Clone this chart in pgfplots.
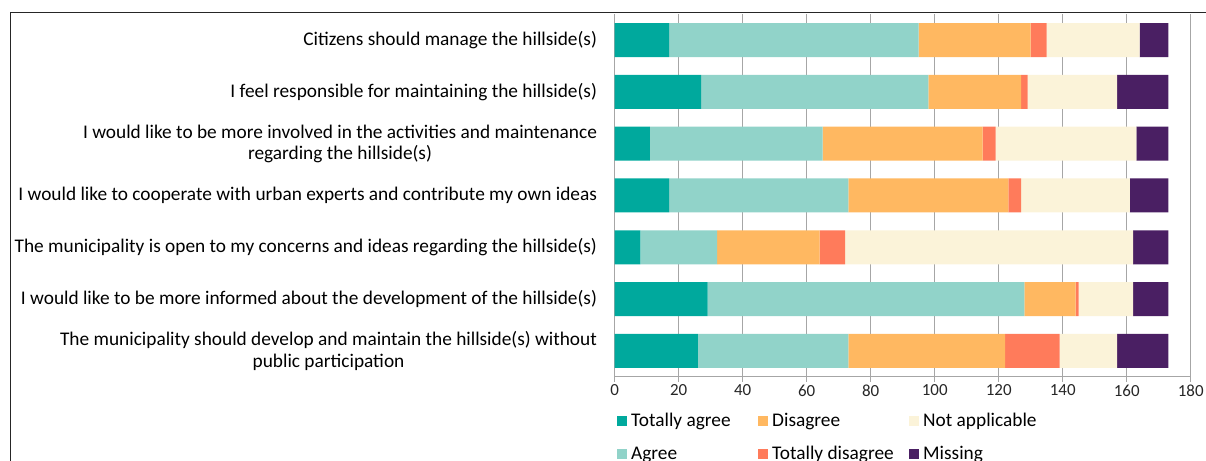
\documentclass[border=0pt]{standalone}
\usepackage{pgfplots}
\pgfplotsset{compat=1.18}
\usepackage{fontspec}
\setmainfont{Carlito}

\definecolor{tagree}{HTML}{00A99D}
\definecolor{agree}{HTML}{91D3C9}
\definecolor{disagree}{HTML}{FFB861}
\definecolor{tdis}{HTML}{FF7B5B}
\definecolor{notapp}{HTML}{FBF3D9}
\definecolor{missing}{HTML}{4A1F63}
\definecolor{gridgray}{HTML}{A6A6A6}

\pgfplotsset{
  sq/.style={legend image code/.code={\fill[##1] (0bp,0bp) rectangle (10bp,10bp);}},
}

\begin{document}
\begin{tikzpicture}[x=1bp,y=1bp]
\useasboundingbox (0,0) rectangle (1206,461);
\begin{axis}[
    at={(614.7bp,84.3bp)}, anchor=south west,
    scale only axis,
    width=576bp, height=362.4bp,
    xbar stacked,
    bar width=34bp,
    xmin=0, xmax=180,
    xtick distance=20,
    ymin=-0.5, ymax=6.5,
    y dir=reverse,
    ytick={0,...,6},
    minor ytick={-0.5,0.5,...,6.5},
    yticklabels={
      {Citizens should manage the hillside(s)},
      {I feel responsible for maintaining the hillside(s)},
      {I would like to be more involved in the activities and maintenance\\regarding the hillside(s)},
      {I would like to cooperate with urban experts and contribute my own ideas},
      {The municipality is open to my concerns and ideas regarding the hillside(s)},
      {I would like to be more informed about the development of the hillside(s)},
      {The municipality should develop and maintain the hillside(s) without\\public participation}
    },
    axis x line*=bottom,
    axis y line*=left,
    axis line style={-, gridgray, line width=1.2bp},
    tick align=outside,
    major tick length=5bp,
    minor tick length=5bp,
    ytick style={draw=none},
    minor tick style={draw=gridgray, line width=1.2bp},
    xtick style={gridgray, line width=1.2bp},
    xmajorgrids,
    major grid style={gridgray, line width=1.2bp},
    /pgf/number format/assume math mode=true,
    yticklabel style={font=\fontsize{19.4}{21.5}\selectfont, align=center,
      inner sep=0pt, xshift=-12.5bp, text=black},
    xticklabel style={font=\fontsize{17}{19}\selectfont, inner sep=0pt,
      yshift=-3bp, text=black!85},
    legend columns=2,
    transpose legend,
    legend style={draw=none, fill=none, inner sep=0pt,
      at={(0,0)}, anchor=north west, xshift=2.3bp, yshift=-36.3bp,
      nodes={inner sep=0pt, text height=13bp, text depth=4bp,
        font=\fontsize{19.4}{21}\selectfont, anchor=base west},
      row sep=16bp,
      /tikz/every odd column/.append style={column sep=4bp}},
]

\addplot[fill=tagree, draw=none, sq] coordinates {
    (17,0) (27,1) (11,2) (17,3) (8,4) (29,5) (26,6)
};
\addlegendentry{\makebox[127bp][l]{Totally agree}}

\addplot[fill=agree, draw=none, sq] coordinates {
    (78,0) (71,1) (54,2) (56,3) (24,4) (99,5) (47,6)
};
\addlegendentry{\makebox[127bp][l]{Agree}}

\addplot[fill=disagree, draw=none, sq] coordinates {
    (35,0) (29,1) (50,2) (50,3) (32,4) (16,5) (49,6)
};
\addlegendentry{\makebox[137bp][l]{Disagree}}

\addplot[fill=tdis, draw=none, sq] coordinates {
    (5,0) (2,1) (4,2) (4,3) (8,4) (1,5) (17,6)
};
\addlegendentry{\makebox[137bp][l]{Totally disagree}}

\addplot[fill=notapp, draw=none, sq] coordinates {
    (29,0) (28,1) (44,2) (34,3) (90,4) (17,5) (18,6)
};
\addlegendentry{Not applicable}

\addplot[fill=missing, draw=none, sq] coordinates {
    (9,0) (16,1) (10,2) (12,3) (11,4) (11,5) (16,6)
};
\addlegendentry{Missing}

\end{axis}
\draw[line width=1.5bp, black!85] (10.5,0) -- (10.5,448.7) -- (1206,448.7);
\end{tikzpicture}
\end{document}
